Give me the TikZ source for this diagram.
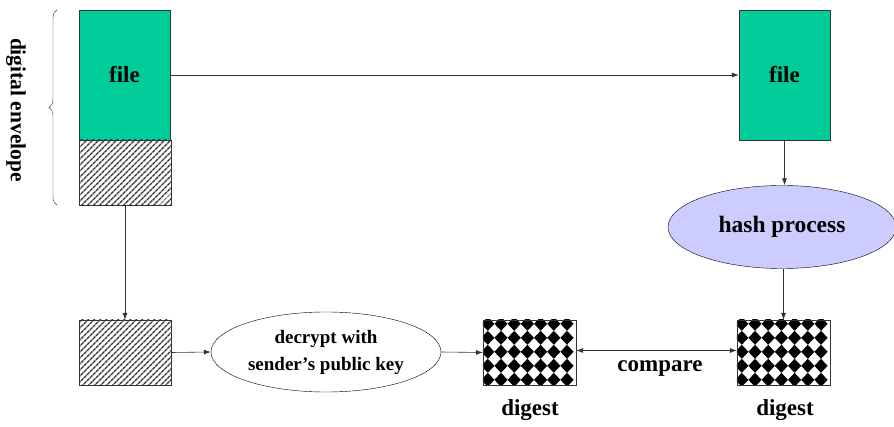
\documentclass[tikz,border=0pt]{standalone}
\usepackage{fontspec}
\setmainfont{Liberation Serif}
\usetikzlibrary{shapes.geometric,arrows.meta,patterns.meta,decorations.pathreplacing,calc}
\definecolor{filegreen}{HTML}{00CC99}
\definecolor{hashblue}{HTML}{CCCCFF}
\tikzset{
  filebox/.style={draw=black!80, fill=filegreen, minimum width=91pt, minimum height=130pt, inner sep=0pt, font=\fontsize{23}{27}\selectfont\bfseries},
  hatchbox/.style={draw=black!80, minimum width=92pt, minimum height=65pt, inner sep=0pt,
     pattern={Lines[angle=45,distance=4pt,line width=1.4pt]}, pattern color=black!80},
  digestbox/.style={draw=black!80, minimum width=93pt, minimum height=65pt, inner sep=0pt},
  oval/.style={ellipse, draw=black, inner sep=0pt, align=center},
  arr/.style={-{Latex[length=7pt,width=5pt]}, black!80, line width=0.6pt},
  biglabel/.style={font=\fontsize{23}{27}\selectfont\bfseries},
}
\newcommand{\diamondfill}[1]{%
  \begin{scope}
    \clip (#1.south west) rectangle (#1.north east);
    \fill[white] (#1.south west) rectangle (#1.north east);
    \foreach \i in {0,...,6} {
      \foreach \j in {0,...,5} {
        \fill[black] ($(#1.north west)+(5+13.2*\i,4+14*\j)$) +(-6.6,0) -- +(0,-7.0) -- +(6.6,0) -- +(0,7.0) -- cycle;
      }
    }
  \end{scope}
  \draw[black!80] (#1.south west) rectangle (#1.north east);
}
\begin{document}
\begin{tikzpicture}[x=1pt,y=-1pt]
\useasboundingbox (0,0) rectangle (894,427);
% top-left envelope
\node[filebox] (lfile) at (124.5,75) {file};
\node[hatchbox] (env) at (125,172.5) {};
% right file
\node[filebox] (rfile) at (784.5,75) {file};
% hash
\node[oval, fill=hashblue, minimum width=228pt, minimum height=83pt, font=\fontsize{23.5}{27}\selectfont\bfseries] (hash) at (782,227) {hash process};
% bottom row
\node[hatchbox] (sig) at (125,352.5) {};
\node[oval, minimum width=230pt, minimum height=80pt, font=\fontsize{19}{27}\selectfont\bfseries] (dec) at (326,352) {decrypt with\\sender’s public key};
\node[digestbox] (dg1) at (529.5,352.5) {};
\node[digestbox] (dg2) at (783.5,352.5) {};
\diamondfill{dg1}
\diamondfill{dg2}
\node[biglabel] (dl1) at (530,410) {digest};
\node[biglabel] (dl2) at (785,410) {digest};
\node[biglabel] (cmp) at (660,369) {compare};
% brace and label
\coordinate (bbot) at (57,205);
\coordinate (btop) at (57,10);
\draw[black!80, decorate, decoration={brace, amplitude=8pt}] (bbot) -- (btop);
\node[rotate=-90, font=\fontsize{21.5}{25}\selectfont\bfseries] (dlab) at (16,110) {digital envelope};
% connectors
\draw[arr] (lfile.east) -- (rfile.west);
\draw[arr] (rfile.south) -- (rfile.south |- hash.north);
\draw[arr] (hash.south -| dg2.north) -- (dg2.north);
\draw[arr] (env.south) -- (sig.north);
\draw[arr] (sig.east) -- (dec.west);
\draw[arr] (dec.east) -- (dg1.west);
\draw[{Latex[length=7pt,width=5pt]}-{Latex[length=7pt,width=5pt]}, black!80, line width=0.6pt] ($(dg1.east)+(0,-2)$) -- ($(dg2.west)+(0,-2)$);
\end{tikzpicture}
\end{document}
